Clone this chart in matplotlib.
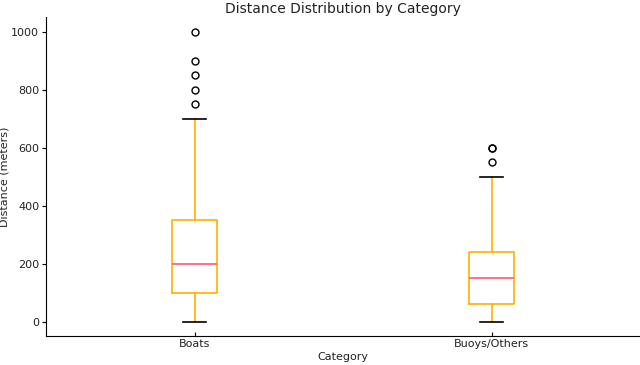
import matplotlib
matplotlib.use("Agg")
import matplotlib.pyplot as plt

# box statistics
categories = ["Boats", "Buoys/Others"]
whisker_low = [0, 0]
q1 = [100, 60]
median = [200, 150]
q3 = [350, 240]
whisker_high = [700, 500]
outliers = [[750, 800, 850, 900, 1000], [550, 600, 600]]

stats = []
for i in range(len(categories)):
    stats.append({
        "label": categories[i],
        "whislo": whisker_low[i],
        "q1": q1[i],
        "med": median[i],
        "q3": q3[i],
        "whishi": whisker_high[i],
        "fliers": outliers[i],
    })

fig = plt.figure(figsize=(6.4, 3.65), dpi=100)
ax = fig.add_axes([0.072, 0.079, 0.928, 0.874])

ax.bxp(stats, widths=0.15,
       boxprops=dict(color="#FFB000", linewidth=1.2),
       whiskerprops=dict(color="#FFB000", linewidth=1.2),
       capprops=dict(color="black", linewidth=1.2),
       medianprops=dict(color="#FF5A6E", linewidth=1.2),
       flierprops=dict(marker="o", markerfacecolor="none", markeredgecolor="black", markersize=5))

ax.set_title("Distance Distribution by Category", fontsize=10, pad=3, color="#222222")
ax.set_xlabel("Category", fontsize=8, labelpad=2, color="#222222")
ax.set_ylabel("Distance (meters)", fontsize=8, labelpad=1, color="#222222")
ax.tick_params(axis="x", direction="in", length=3, pad=2, labelsize=8, labelcolor="#222222")
ax.tick_params(axis="y", direction="out", length=3, pad=2, labelsize=8, labelcolor="#222222")
ax.set_ylim(-50, 1050)
ax.spines["top"].set_visible(False)
ax.spines["right"].set_visible(False)

fig.savefig("out.png", dpi=100)
